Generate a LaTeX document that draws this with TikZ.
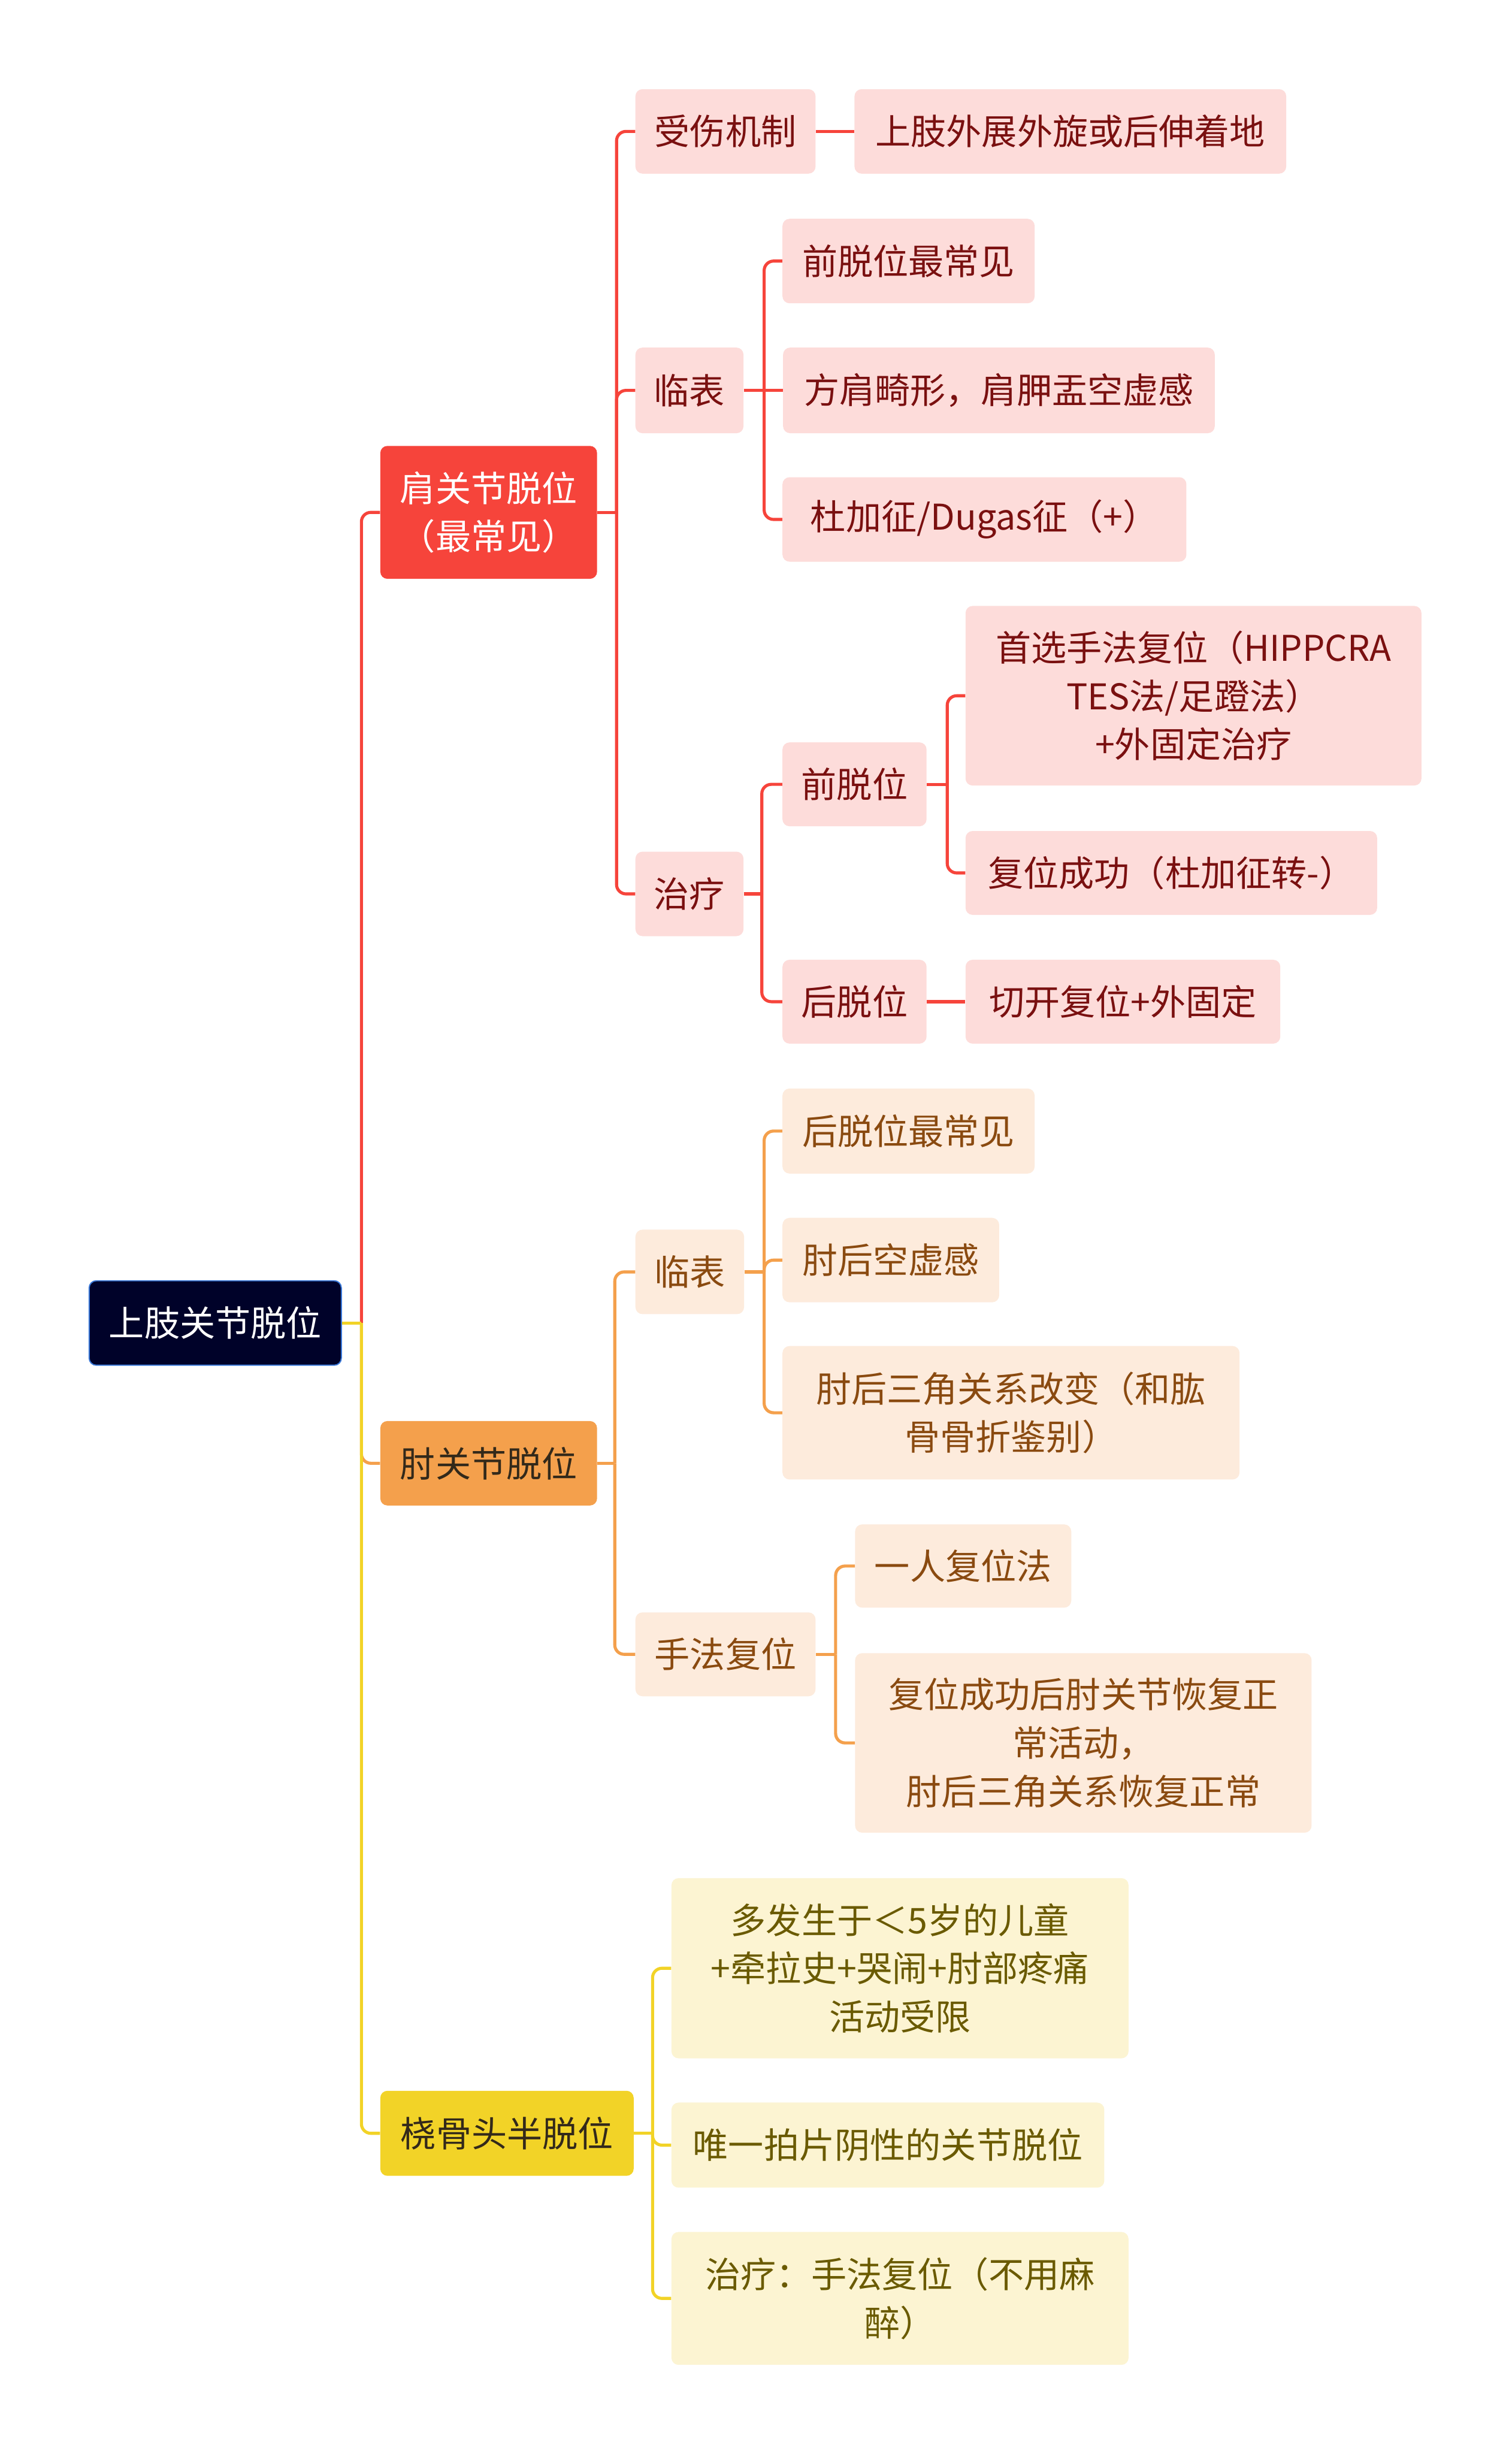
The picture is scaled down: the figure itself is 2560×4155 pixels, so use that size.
\documentclass[tikz,border=0pt]{standalone}
\usepackage{fontspec}
\setmainfont{Noto Sans CJK SC}
\definecolor{rootfill}{HTML}{000229}
\definecolor{rootdraw}{HTML}{3A78D8}
\definecolor{redc}{HTML}{F6443B}
\definecolor{orangec}{HTML}{F4A04C}
\definecolor{yellowc}{HTML}{F2D327}
\definecolor{pinkfill}{HTML}{FDDCDA}
\definecolor{peachfill}{HTML}{FDEBDC}
\definecolor{creamfill}{HTML}{FCF4D2}
\definecolor{redtext}{HTML}{7A1010}
\definecolor{browntext}{HTML}{8A4A10}
\definecolor{olivetext}{HTML}{6A5A00}
\definecolor{darktext}{HTML}{33291A}
\tikzset{
  sz/.style 2 args={minimum width=#1*0.5pt, minimum height=#2*0.5pt},
  box/.style={rounded corners=6pt, inner sep=0pt, align=center,
    font=\fontsize{30pt}{41pt}\selectfont},
  rootbox/.style={box, fill=rootfill, draw=rootdraw, line width=1pt, text=white},
  sbox/.style={box, fill=redc, text=white},
  ebox/.style={box, fill=orangec, text=darktext},
  rbox/.style={box, fill=yellowc, text=darktext},
  pbox/.style={box, fill=pinkfill, text=redtext},
  obox/.style={box, fill=peachfill, text=browntext},
  ybox/.style={box, fill=creamfill, text=olivetext},
  link/.style={line width=2.6pt, rounded corners=8pt},
  rl/.style={link, draw=redc},
  ol/.style={link, draw=orangec},
  yl/.style={link, draw=yellowc},
}
\begin{document}
\begin{tikzpicture}[x=0.5pt, y=-0.5pt]
\useasboundingbox[fill=white] (0,0) rectangle (2560,4155);

% nodes
\node[rootbox, sz={427}{143}] (root) at (364.5,2240) {上肢关节脱位};

\node[sbox, sz={367}{225}] (S) at (827.5,867.5) {肩关节脱位\\（最常见）};
\node[ebox, sz={367}{143}] (E) at (827.5,2477.5) {肘关节脱位};
\node[rbox, sz={429}{144}] (R) at (858.5,3612) {桡骨头半脱位};

\node[pbox, sz={305}{143}] (S1) at (1228.5,222.5) {受伤机制};
\node[pbox, sz={731}{143}] (S1a) at (1812.5,222.5) {上肢外展外旋或后伸着地};
\node[pbox, sz={183}{145}] (S2) at (1167.5,661) {临表};
\node[pbox, sz={427}{143}] (S2a) at (1538.5,442) {前脱位最常见};
\node[pbox, sz={731}{145}] (S2b) at (1691.5,661) {方肩畸形，肩胛盂空虚感};
\node[pbox, sz={684}{143}] (S2c) at (1667,879.5) {杜加征/Dugas征（+）};
\node[pbox, sz={183}{143}] (S3) at (1167.5,1513.5) {治疗};
\node[pbox, sz={244}{142}] (S3a) at (1447,1328) {前脱位};
\node[pbox, sz={772}{304}] (S3a1) at (2021,1178) {首选手法复位（HIPPCRA\\TES法/足蹬法）\\+外固定治疗};
\node[pbox, sz={697}{142}] (S3a2) at (1983.5,1478) {复位成功（杜加征转-）};
\node[pbox, sz={244}{142}] (S3b) at (1447,1696) {后脱位};
\node[pbox, sz={533}{142}] (S3b1) at (1901.5,1696) {切开复位+外固定};

\node[obox, sz={184}{143}] (E1) at (1168,2153.5) {临表};
\node[obox, sz={427}{144}] (E1a) at (1538.5,1915) {后脱位最常见};
\node[obox, sz={367}{143}] (E1b) at (1508.5,2133.5) {肘后空虚感};
\node[obox, sz={774}{226}] (E1c) at (1712,2392) {肘后三角关系改变（和肱\\骨骨折鉴别）};
\node[obox, sz={305}{142}] (E2) at (1228.5,2801) {手法复位};
\node[obox, sz={366}{141}] (E2a) at (1631,2651.5) {一人复位法};
\node[obox, sz={773}{304}] (E2b) at (1834.5,2951) {复位成功后肘关节恢复正\\常活动，\\肘后三角关系恢复正常};

\node[ybox, sz={774}{305}] (R1) at (1524,3332.5) {多发生于＜5岁的儿童\\+牵拉史+哭闹+肘部疼痛\\活动受限};
\node[ybox, sz={733}{144}] (R2) at (1503.5,3632) {唯一拍片阴性的关节脱位};
\node[ybox, sz={774}{225}] (R3) at (1524,3891.5) {治疗：手法复位（不用麻\\醉）};

% junction coordinates
\coordinate (rootj) at (612,2240);
\coordinate (Sj) at (1044,867.5);
\coordinate (S2j) at (1294,661);
\coordinate (S3j) at (1290,1513.5);
\coordinate (S3aj) at (1604,1328);
\coordinate (Ej) at (1041,2477.5);
\coordinate (E1j) at (1294,2153.5);
\coordinate (E2j) at (1415,2801);
\coordinate (Rj) at (1105,3612);

% root connectors
\draw[rl] (rootj) |- (S.west);
\draw[ol] (rootj) |- (E.west);
\draw[yl] (rootj) |- (R.west);
\draw[yl] (root.east) -- (rootj);

% shoulder
\draw[rl] (S.east) -- (Sj);
\draw[rl] (Sj) |- (S1.west);
\draw[rl] (Sj) |- (S2.west);
\draw[rl] (Sj) |- (S3.west);
\draw[rl] (S1.east) -- (S1a.west);
\draw[rl] (S2.east) -- (S2j);
\draw[rl] (S2j) |- (S2a.west);
\draw[rl] (S2j) -- (S2b.west);
\draw[rl] (S2j) |- (S2c.west);
\draw[rl] (S3.east) -- (S3j);
\draw[rl] (S3j) |- (S3a.west);
\draw[rl] (S3j) |- (S3b.west);
\draw[rl] (S3a.east) -- (S3aj);
\draw[rl] (S3aj) |- (S3a1.west);
\draw[rl] (S3aj) |- (S3a2.west);
\draw[rl] (S3b.east) -- (S3b1.west);

% elbow
\draw[ol] (E.east) -- (Ej);
\draw[ol] (Ej) |- (E1.west);
\draw[ol] (Ej) |- (E2.west);
\draw[ol] (E1.east) -- (E1j);
\draw[ol] (E1j) |- (E1a.west);
\draw[ol] (E1j) |- (E1b.west);
\draw[ol] (E1j) |- (E1c.west);
\draw[ol] (E2.east) -- (E2j);
\draw[ol] (E2j) |- (E2a.west);
\draw[ol] (E2j) |- (E2b.west);

% radial head
\draw[yl] (R.east) -- (Rj);
\draw[yl] (Rj) |- (R1.west);
\draw[yl] (Rj) |- (R2.west);
\draw[yl] (Rj) |- (R3.west);
\end{tikzpicture}
\end{document}
